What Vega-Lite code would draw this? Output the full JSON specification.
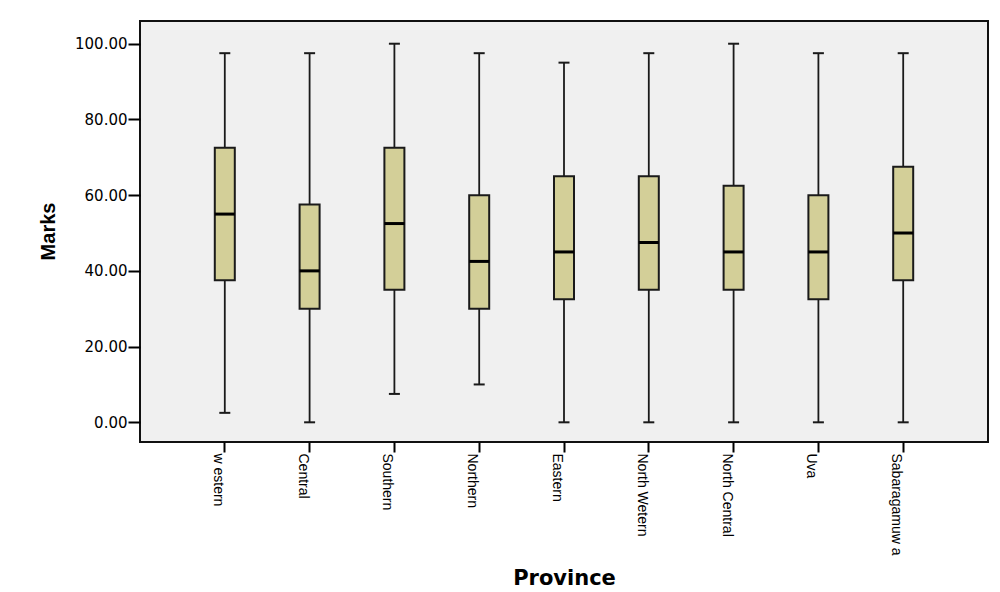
{
  "$schema": "https://vega.github.io/schema/vega-lite/v6.json",
  "width": 848,
  "height": 421,
  "autosize": "none",
  "padding": {"left": 140, "top": 21, "right": 12, "bottom": 150},
  "background": "#ffffff",
  "config": {
    "view": {"fill": "#f0f0f0", "stroke": "#111111", "strokeWidth": 2},
    "axis": {"grid": false, "domain": false, "tickColor": "#000000", "tickWidth": 2, "labelColor": "#000000", "titleColor": "#000000"}
  },
  "data": {
    "values": [
      {"province": "w estern", "lo": 2.5, "q1": 37.5, "median": 55, "q3": 72.5, "hi": 97.5},
      {"province": "Central", "lo": 0, "q1": 30, "median": 40, "q3": 57.5, "hi": 97.5},
      {"province": "Southern", "lo": 7.5, "q1": 35, "median": 52.5, "q3": 72.5, "hi": 100},
      {"province": "Northern", "lo": 10, "q1": 30, "median": 42.5, "q3": 60, "hi": 97.5},
      {"province": "Eastern", "lo": 0, "q1": 32.5, "median": 45, "q3": 65, "hi": 95},
      {"province": "North Wetern", "lo": 0, "q1": 35, "median": 47.5, "q3": 65, "hi": 97.5},
      {"province": "North Central", "lo": 0, "q1": 35, "median": 45, "q3": 62.5, "hi": 100},
      {"province": "Uva", "lo": 0, "q1": 32.5, "median": 45, "q3": 60, "hi": 97.5},
      {"province": "Sabaragamuw a", "lo": 0, "q1": 37.5, "median": 50, "q3": 67.5, "hi": 97.5}
    ]
  },
  "encoding": {
    "x": {
      "field": "province",
      "type": "nominal",
      "sort": null,
      "scale": {"paddingInner": 0, "paddingOuter": 0.5},
      "axis": {
        "title": "Province",
        "titleFont": "DejaVu Sans",
        "titleFontSize": 21,
        "titleFontWeight": "bold",
        "titleBaseline": "alphabetic",
        "titleY": 142,
        "labelAngle": 90,
        "labelAlign": "left",
        "labelBaseline": "top",
        "labelFont": "Liberation Sans",
        "labelFontSize": 14,
        "labelPadding": 1,
        "labelLimit": 200,
        "tickSize": 10
      }
    }
  },
  "layer": [
    {
      "mark": {"type": "rule", "color": "#1a1a1a", "strokeWidth": 1.8, "opacity": 1},
      "encoding": {
        "y": {
          "field": "lo",
          "type": "quantitative",
          "scale": {"domain": [-5.2, 106], "nice": false, "zero": false},
          "axis": {
            "title": "Marks",
            "titleFont": "Liberation Sans",
            "titleFontSize": 20,
            "titleFontWeight": "bold",
            "titleAngle": -90,
            "titleAlign": "center",
            "titleBaseline": "alphabetic",
            "titleX": -86,
            "titleY": 210,
            "values": [0, 20, 40, 60, 80, 100],
            "format": ".2f",
            "labelFont": "DejaVu Sans",
            "labelFontSize": 15,
            "labelPadding": 1,
            "tickSize": 12
          }
        },
        "y2": {"field": "hi"}
      }
    },
    {
      "mark": {"type": "tick", "color": "#1a1a1a", "size": 11, "thickness": 2, "opacity": 1},
      "encoding": {"y": {"field": "lo", "type": "quantitative"}}
    },
    {
      "mark": {"type": "tick", "color": "#1a1a1a", "size": 11, "thickness": 2, "opacity": 1},
      "encoding": {"y": {"field": "hi", "type": "quantitative"}}
    },
    {
      "mark": {"type": "bar", "size": 20, "fill": "#d3cf98", "stroke": "#1a1a1a", "strokeWidth": 2, "opacity": 1},
      "encoding": {
        "y": {"field": "q1", "type": "quantitative"},
        "y2": {"field": "q3"}
      }
    },
    {
      "mark": {"type": "tick", "color": "#000000", "size": 20, "thickness": 3, "opacity": 1},
      "encoding": {"y": {"field": "median", "type": "quantitative"}}
    }
  ]
}
